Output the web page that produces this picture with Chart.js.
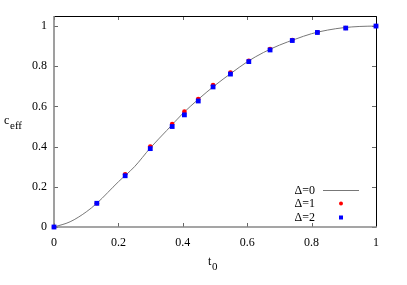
<!DOCTYPE html>
<html>
<head>
<meta charset="utf-8">
<script src="https://cdn.jsdelivr.net/npm/chart.js@4/dist/chart.umd.min.js"></script>
<style>
  html, body { margin: 0; padding: 0; background: #fff; }
  #wrap { width: 407px; height: 285px; }
</style>
</head>
<body>
<div id="wrap"><canvas id="grafico" width="407" height="285"></canvas></div>
<script>
// datos
const curvaX = [0, 0.05, 0.1, 0.133, 0.2, 0.25, 0.3, 0.35, 0.4, 0.45, 0.5, 0.55, 0.6, 0.65, 0.7, 0.75, 0.8, 0.85, 0.9, 0.95, 1];
const curvaY = [0, 0.026, 0.075, 0.118, 0.225, 0.3, 0.395, 0.48, 0.565, 0.638, 0.705, 0.765, 0.822, 0.868, 0.905, 0.935, 0.962, 0.98, 0.992, 0.998, 1];

const t0 = [0, 0.133, 0.221, 0.299, 0.367, 0.405, 0.448, 0.494, 0.548, 0.605, 0.671, 0.74, 0.818, 0.906, 1.0];
const delta1 = [0, 0.118, 0.262, 0.40, 0.512, 0.574, 0.637, 0.706, 0.768, 0.827, 0.886, 0.93, 0.969, 0.99, 1.0];
const delta2 = [0, 0.118, 0.255, 0.39, 0.50, 0.558, 0.627, 0.697, 0.761, 0.823, 0.881, 0.928, 0.968, 0.99, 1.0];

const xTicks = [0, 0.2, 0.4, 0.6, 0.8, 1];
const xTickLabels = ['0', '0.2', '0.4', '0.6', '0.8', '1'];
const yTicks = [0, 0.2, 0.4, 0.6, 0.8, 1];
const yTickLabels = ['0', '0.2', '0.4', '0.6', '0.8', '1'];

const leyenda = ['\u0394=0', '\u0394=1', '\u0394=2'];

const fuente = "'Liberation Serif', 'DejaVu Serif', serif";

function puntos(xs, ys) {
  return xs.map((x, i) => ({ x: x, y: ys[i] }));
}

// ticks hacia dentro, marco, titulos con subindice y leyenda
const decoracion = {
  id: 'decoracion',
  beforeDatasetsDraw(chart) {
    const ctx = chart.ctx;
    const a = chart.chartArea;
    const sx = chart.scales.x, sy = chart.scales.y;
    ctx.save();

    ctx.strokeStyle = '#666';
    ctx.lineWidth = 1;
    ctx.beginPath();
    xTicks.forEach(v => {
      const px = Math.round(sx.getPixelForValue(v)) + 0.5;
      ctx.moveTo(px, a.bottom); ctx.lineTo(px, a.bottom - 4);
      ctx.moveTo(px, a.top); ctx.lineTo(px, a.top + 4);
    });
    yTicks.forEach(v => {
      const py = Math.round(sy.getPixelForValue(v)) + 0.5;
      ctx.moveTo(a.left, py); ctx.lineTo(a.left + 4, py);
      ctx.moveTo(a.right, py); ctx.lineTo(a.right - 4, py);
    });
    ctx.stroke();

    ctx.strokeStyle = '#000';
    ctx.beginPath();
    ctx.moveTo(a.left, a.top + 0.5); ctx.lineTo(a.right + 0.5, a.top + 0.5);
    ctx.lineTo(a.right + 0.5, a.bottom);
    ctx.stroke();
    ctx.strokeStyle = '#888';
    ctx.lineWidth = 1.6;
    ctx.beginPath();
    ctx.moveTo(a.left, a.top); ctx.lineTo(a.left, a.bottom);
    ctx.lineTo(a.right + 1, a.bottom);
    ctx.stroke();
    ctx.restore();
  },
  afterDraw(chart) {
    const ctx = chart.ctx;
    ctx.save();
    // titulos de ejes
    ctx.fillStyle = '#000';
    ctx.textBaseline = 'alphabetic';
    ctx.textAlign = 'left';
    ctx.font = '12px ' + fuente;
    ctx.fillText('c', 4, 124);
    ctx.font = '11px ' + fuente;
    ctx.fillText('eff', 10, 129);
    ctx.font = '12px ' + fuente;
    ctx.fillText('t', 208, 265);
    ctx.font = '11px ' + fuente;
    ctx.fillText('0', 212, 270);

    // leyenda
    ctx.font = '12px ' + fuente;
    ctx.textAlign = 'right';
    ctx.textBaseline = 'middle';
    const filas = [191, 204, 218];
    leyenda.forEach((t, i) => ctx.fillText(t, 315, filas[i]));
    ctx.strokeStyle = '#777';
    ctx.lineWidth = 1;
    ctx.beginPath();
    ctx.moveTo(323, 190.5); ctx.lineTo(359, 190.5);
    ctx.stroke();
    ctx.fillStyle = '#ff0000';
    ctx.beginPath();
    ctx.arc(341, 203.5, 2, 0, Math.PI * 2);
    ctx.fill();
    ctx.fillStyle = '#0000ff';
    ctx.fillRect(339, 215.5, 4, 4);
    ctx.restore();
  }
};

new Chart(document.getElementById('grafico'), {
  type: 'scatter',
  data: {
    datasets: [
      {
        label: leyenda[0],
        data: puntos(curvaX, curvaY),
        showLine: true,
        borderColor: '#777',
        borderWidth: 1,
        pointRadius: 0,
        cubicInterpolationMode: 'monotone',
        order: 2
      },
      {
        label: leyenda[1],
        data: puntos(t0, delta1),
        pointStyle: 'circle',
        pointRadius: 2.3,
        backgroundColor: '#ff0000',
        borderWidth: 0,
        clip: false,
        order: 1
      },
      {
        label: leyenda[2],
        data: puntos(t0, delta2),
        pointStyle: 'rect',
        pointRadius: 3.4,
        backgroundColor: '#0000ff',
        borderWidth: 0,
        clip: false,
        order: 0
      }
    ]
  },
  options: {
    responsive: false,
    animation: false,
    layout: { padding: { top: 16, right: 31, left: 0, bottom: 0 } },
    plugins: { legend: { display: false }, tooltip: { enabled: false } },
    scales: {
      x: {
        type: 'linear',
        min: 0,
        max: 1,
        afterFit: s => { s.height = 58; },
        afterBuildTicks: s => { s.ticks = xTicks.map(v => ({ value: v })); },
        grid: { display: false, drawTicks: false },
        border: { display: false },
        ticks: {
          padding: 9,
          color: '#000',
          font: { family: fuente, size: 12 },
          callback: (v, i) => xTickLabels[i]
        }
      },
      y: {
        type: 'linear',
        min: 0,
        max: 1.05,
        afterFit: s => { s.width = 54; },
        afterBuildTicks: s => { s.ticks = yTicks.map(v => ({ value: v })); },
        grid: { display: false, drawTicks: false },
        border: { display: false },
        ticks: {
          padding: 7,
          color: '#000',
          font: { family: fuente, size: 12 },
          callback: (v, i) => yTickLabels[i]
        }
      }
    }
  },
  plugins: [decoracion]
});
</script>
</body>
</html>
